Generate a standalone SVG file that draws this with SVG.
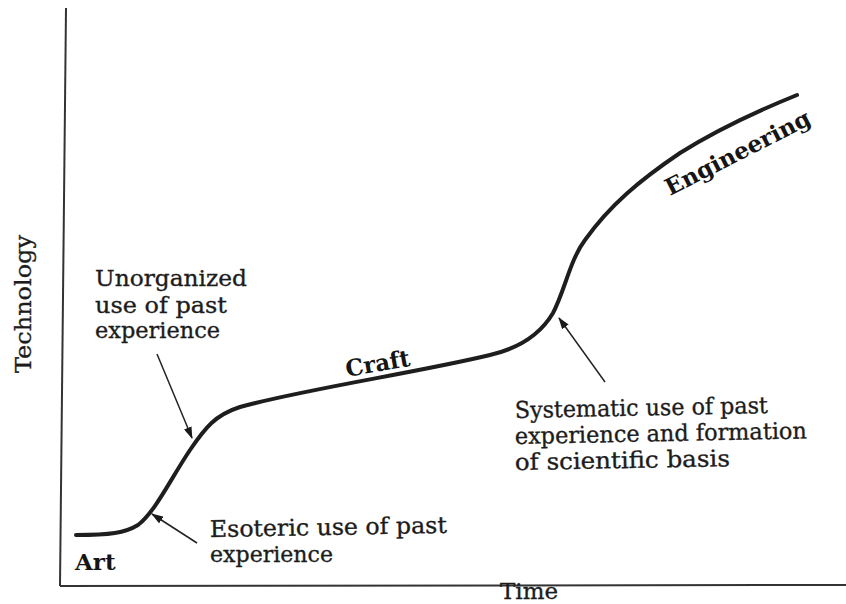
<svg xmlns="http://www.w3.org/2000/svg" width="846" height="604" viewBox="0 0 846 604">
  <style>
    .lbl { font-family: "DejaVu Serif", "Liberation Serif", serif; font-size: 23px; fill: #1c1c1c; stroke: #1c1c1c; stroke-width: 0.35; }
    .stage { font-family: "DejaVu Serif", "Liberation Serif", serif; font-size: 23px; font-weight: bold; fill: #151515; }
    .axis { stroke: #333; stroke-width: 2; fill: none; }
    .curve { stroke: #1e1e1e; stroke-width: 4; fill: none; stroke-linecap: round; }
    .ptr { stroke: #222; stroke-width: 1.5; fill: none; }
  </style>
  <defs>
    <marker id="head" viewBox="0 0 12 8" refX="11" refY="4" markerWidth="12" markerHeight="8" markerUnits="userSpaceOnUse" orient="auto">
      <path d="M0,0 L12,4 L0,8 Z" fill="#1a1a1a"/>
    </marker>
  </defs>
  <rect width="846" height="604" fill="#ffffff"/>

  <!-- axes -->
  <g id="axes">
    <line class="axis" x1="66" y1="8" x2="60" y2="586"/>
    <line class="axis" x1="60" y1="586" x2="846" y2="585"/>
    <text class="lbl" x="500" y="599" font-size="21" textLength="58" lengthAdjust="spacingAndGlyphs">Time</text>
    <text class="lbl" transform="translate(31,373) rotate(-90)" font-size="22" textLength="138" lengthAdjust="spacingAndGlyphs">Technology</text>
  </g>

  <!-- growth curve -->
  <g id="curve">
    <path class="curve" d="M76,535 C110,535 125,533 138,525 C155,512 170,480 190,450 C205,428 215,415 240,407 C300,390 420,372 490,355 C520,348 540,335 553,313 C565,290 570,260 585,240 C610,205 640,180 680,153 C720,128 760,110 797,95"/>
  </g>

  <!-- stage labels -->
  <g id="stage-art">
    <text class="stage" x="75" y="570">Art</text>
  </g>
  <g id="stage-craft">
    <text class="stage" transform="translate(347,377) rotate(-10)" textLength="65" lengthAdjust="spacingAndGlyphs">Craft</text>
  </g>
  <g id="stage-engineering">
    <text class="stage" font-size="24" transform="translate(670,196) rotate(-27)" textLength="160" lengthAdjust="spacingAndGlyphs">Engineering</text>
  </g>

  <!-- annotations -->
  <g id="note-unorganized">
    <text class="lbl" x="95" y="286" textLength="152" lengthAdjust="spacingAndGlyphs">Unorganized</text>
    <text class="lbl" x="95" y="313" textLength="132" lengthAdjust="spacingAndGlyphs">use of past</text>
    <text class="lbl" x="95" y="338" textLength="125" lengthAdjust="spacingAndGlyphs">experience</text>
  </g>
  <g id="note-esoteric">
    <text class="lbl" transform="translate(210,537) rotate(-1)" textLength="237" lengthAdjust="spacingAndGlyphs">Esoteric use of past</text>
    <text class="lbl" x="210" y="562" textLength="123" lengthAdjust="spacingAndGlyphs">experience</text>
  </g>
  <g id="note-systematic">
    <text class="lbl" transform="translate(515,418) rotate(-1.1)" textLength="253" lengthAdjust="spacingAndGlyphs">Systematic use of past</text>
    <text class="lbl" transform="translate(515,444) rotate(-1.1)" textLength="292" lengthAdjust="spacingAndGlyphs">experience and formation</text>
    <text class="lbl" transform="translate(515,470) rotate(-1)" textLength="215" lengthAdjust="spacingAndGlyphs">of scientific basis</text>
  </g>

  <!-- pointers -->
  <g id="connectors">
    <line class="ptr" x1="157" y1="354" x2="192" y2="438" marker-end="url(#head)"/>
    <line class="ptr" x1="197" y1="543" x2="152" y2="514" marker-end="url(#head)"/>
    <line class="ptr" x1="605" y1="382" x2="559" y2="318" marker-end="url(#head)"/>
  </g>
</svg>
